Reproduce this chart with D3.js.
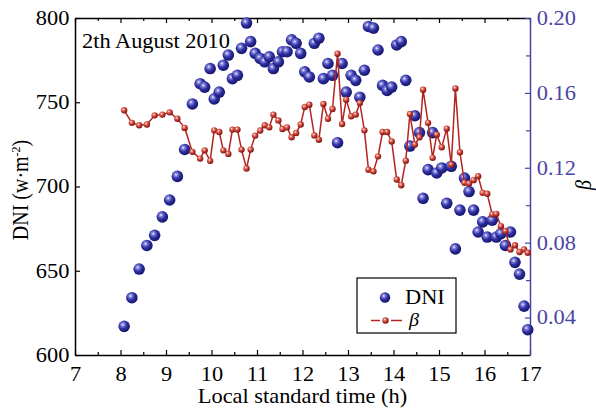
<!DOCTYPE html>
<html>
<head>
<meta charset="utf-8">
<script src="https://cdn.jsdelivr.net/npm/d3@7"></script>
<style>
  body { margin: 0; background: #fff; }
  svg text { font-family: "Liberation Serif", "Times New Roman", serif; }
</style>
</head>
<body>
<script>
// local standard time of each measurement (h)
const hours = [8.08, 8.25, 8.41, 8.58, 8.75, 8.92, 9.08, 9.25, 9.41, 9.58,
  9.75, 9.85, 9.97, 10.06, 10.17, 10.26, 10.37, 10.46, 10.57, 10.66,
  10.77, 10.86, 10.96, 11.07, 11.17, 11.27, 11.36, 11.47, 11.56, 11.66,
  11.76, 11.86, 11.96, 12.05, 12.15, 12.26, 12.36, 12.46, 12.56, 12.66,
  12.77, 12.87, 12.96, 13.07, 13.17, 13.26, 13.36, 13.45, 13.56, 13.66,
  13.76, 13.86, 13.96, 14.07, 14.17, 14.27, 14.36, 14.47, 14.57, 14.65,
  14.76, 14.86, 14.95, 15.06, 15.17, 15.27, 15.36, 15.46, 15.56, 15.66,
  15.76, 15.86, 15.96, 16.06, 16.17, 16.26, 16.36, 16.46, 16.57, 16.67,
  16.77, 16.87, 16.95];

// direct normal irradiance (w·m-2)
const dni = [617, 634, 651, 665, 671, 682, 692, 706, 722, 749,
  761, 759, 770, 752, 756, 772, 778, 764, 766, 782,
  797, 786, 779, 776, 774, 777, 770, 774, 780, 780,
  787, 785, 779, 768, 765, 785, 788, 764, 773, 766,
  726, 773, 756, 766, 763, 753, 769, 795, 794, 781,
  760, 757, 759, 784, 786, 763, 724, 742, 732, 693,
  710, 732, 708, 711, 690, 712, 663, 686, 705, 697,
  686, 673, 679, 670, 680, 670, 672, 665, 673, 655,
  648, 629, 615];

// Angstrom turbidity beta
const beta = [0.1507, 0.1440, 0.1427, 0.1431, 0.1480, 0.1484, 0.1496, 0.1462, 0.1413, 0.1285,
  0.1249, 0.1293, 0.1237, 0.1400, 0.1391, 0.1293, 0.1274, 0.1404, 0.1404, 0.1297,
  0.1196, 0.1297, 0.1372, 0.1399, 0.1427, 0.1416, 0.1484, 0.1453, 0.1407, 0.1416,
  0.1363, 0.1386, 0.1431, 0.1525, 0.1537, 0.1373, 0.1350, 0.1541, 0.1462, 0.1514,
  0.1809, 0.1434, 0.1564, 0.1475, 0.1484, 0.1546, 0.1400, 0.1190, 0.1181, 0.1261,
  0.1391, 0.1391, 0.1341, 0.1137, 0.1107, 0.1238, 0.1487, 0.1324, 0.1363, 0.1617,
  0.1440, 0.1253, 0.1377, 0.1310, 0.1409, 0.1217, 0.1624, 0.1283, 0.1120, 0.1116,
  0.1134, 0.1155, 0.1066, 0.1061, 0.0951, 0.0954, 0.0888, 0.0862, 0.0764, 0.0786,
  0.0750, 0.0764, 0.0746];

const xTicks = [7, 8, 9, 10, 11, 12, 13, 14, 15, 16, 17];
const xMinor = [7.5, 8.5, 9.5, 10.5, 11.5, 12.5, 13.5, 14.5, 15.5, 16.5];
const dniTicks = [600, 650, 700, 750, 800];
const betaTicks = [0.04, 0.08, 0.12, 0.16, 0.20];
const betaMinor = [0.06, 0.10, 0.14, 0.18];

const W = 596, H = 412;
const plotL = 75, plotR = 530, plotT = 18, plotB = 355;
const sx = 1.12;               // the original type is slightly wide
const blue = "#4b45a6";
const red = "#b3231f";

const svg = d3.select("body").append("svg")
    .attr("width", W)
    .attr("height", H);

// gradients for the shaded markers
let defs = svg.append("defs");
let gb = defs.append("radialGradient").attr("id", "ballBlue")
    .attr("cx", "38%").attr("cy", "35%").attr("r", "65%");
gb.append("stop").attr("offset", "0%").attr("stop-color", "#ffffff");
gb.append("stop").attr("offset", "18%").attr("stop-color", "#8c8ce0");
gb.append("stop").attr("offset", "55%").attr("stop-color", "#2f2fa3");
gb.append("stop").attr("offset", "100%").attr("stop-color", "#16166a");
let gr = defs.append("radialGradient").attr("id", "ballRed")
    .attr("cx", "38%").attr("cy", "35%").attr("r", "65%");
gr.append("stop").attr("offset", "0%").attr("stop-color", "#ffffff");
gr.append("stop").attr("offset", "25%").attr("stop-color", "#e87a6c");
gr.append("stop").attr("offset", "65%").attr("stop-color", "#b8302a");
gr.append("stop").attr("offset", "100%").attr("stop-color", "#7a1410");

let xScale = d3.scaleLinear().domain([7, 17]).range([plotL, plotR]);
let yScale = d3.scaleLinear().domain([600, 800]).range([plotB, plotT]);
let bScale = d3.scaleLinear().domain([0.02, 0.20]).range([plotB, plotT]);

function styleAxis(g, color) {
    g.attr("font-family", null).attr("font-size", null);
    g.select(".domain").attr("stroke", color).attr("stroke-width", 1.5);
    g.selectAll(".tick line").attr("stroke", color).attr("stroke-width", 1.2);
    g.selectAll(".tick text")
        .attr("fill", color)
        .style("font-size", "20px")
        .attr("transform", `scale(${sx},1)`);
}

function minorLines(g, color) {
    g.select(".domain").remove();
    g.selectAll("line").attr("stroke", color).attr("stroke-width", 1.2);
}

// bottom axis
svg.append("g")
    .attr("transform", `translate(0,${plotB})`)
    .call(d3.axisBottom(xScale).tickValues(xTicks).tickSize(-5).tickSizeOuter(0)
        .tickPadding(12).tickFormat(d3.format("d")))
    .call(g => styleAxis(g, "#000"));
svg.append("g")
    .attr("transform", `translate(0,${plotB})`)
    .call(d3.axisBottom(xScale).tickValues(xMinor).tickSize(-3).tickFormat(""))
    .call(g => minorLines(g, "#000"));

// top axis
svg.append("g")
    .attr("transform", `translate(0,${plotT})`)
    .call(d3.axisTop(xScale).tickValues(xTicks).tickSize(-5).tickSizeOuter(0).tickFormat(""))
    .call(g => styleAxis(g, "#000"));
svg.append("g")
    .attr("transform", `translate(0,${plotT})`)
    .call(d3.axisTop(xScale).tickValues(xMinor).tickSize(-3).tickFormat(""))
    .call(g => minorLines(g, "#000"));

// left axis (DNI)
svg.append("g")
    .attr("transform", `translate(${plotL},0)`)
    .call(d3.axisLeft(yScale).tickValues(dniTicks).tickSize(-5).tickSizeOuter(0).tickPadding(5))
    .call(g => styleAxis(g, "#000"));

// right axis (beta)
svg.append("g")
    .attr("transform", `translate(${plotR},0)`)
    .call(d3.axisRight(bScale).tickValues(betaTicks).tickSize(-5).tickSizeOuter(0)
        .tickPadding(6).tickFormat(d3.format(".2f")))
    .call(g => styleAxis(g, blue));
svg.append("g")
    .attr("transform", `translate(${plotR},0)`)
    .call(d3.axisRight(bScale).tickValues(betaMinor).tickSize(-4).tickFormat(""))
    .call(g => minorLines(g, blue));

// axis titles
svg.append("text")
    .attr("transform", `translate(${(plotL + plotR) / 2},403) scale(${sx},1)`)
    .attr("text-anchor", "middle")
    .style("font-size", "20px")
    .text("Local standard time (h)");

let yTitle = svg.append("text")
    .attr("transform", `translate(28,190) rotate(-90) scale(1,${sx})`)
    .attr("text-anchor", "middle")
    .style("font-size", "20px");
yTitle.append("tspan").text("DNI (w·m");
yTitle.append("tspan").attr("dy", -7).style("font-size", "12px").text("-2");
yTitle.append("tspan").attr("dy", 7).text(")");

svg.append("text")
    .attr("transform", `translate(591,185) rotate(-90) scale(1,${sx})`)
    .attr("text-anchor", "middle")
    .style("font-size", "20px")
    .style("font-style", "italic")
    .text("β");

svg.append("text")
    .attr("transform", `translate(82,48) scale(${sx},1)`)
    .style("font-size", "20px")
    .text("2th August 2010");

// DNI spheres
svg.append("g").selectAll("circle")
    .data(hours)
    .enter()
    .append("circle")
    .attr("cx", d => xScale(d))
    .attr("cy", (d, i) => yScale(dni[i]))
    .attr("r", 5.8)
    .attr("fill", "url(#ballBlue)");

// beta line with markers
let line = d3.line()
    .x(d => xScale(d))
    .y((d, i) => bScale(beta[i]));
svg.append("path")
    .datum(hours)
    .attr("d", line)
    .attr("fill", "none")
    .attr("stroke", red)
    .attr("stroke-width", 1.5);
svg.append("g").selectAll("circle")
    .data(hours)
    .enter()
    .append("circle")
    .attr("cx", d => xScale(d))
    .attr("cy", (d, i) => bScale(beta[i]))
    .attr("r", 3.2)
    .attr("fill", "url(#ballRed)");

// legend
let legend = svg.append("g").attr("transform", "translate(357,278)");
legend.append("rect")
    .attr("width", 99)
    .attr("height", 55)
    .attr("fill", "#fff")
    .attr("stroke", "#000")
    .attr("stroke-width", 1.2);
legend.append("circle")
    .attr("cx", 28).attr("cy", 19.5).attr("r", 5.2)
    .attr("fill", "url(#ballBlue)");
legend.append("text")
    .attr("transform", `translate(48,25.5) scale(${sx},1)`)
    .style("font-size", "20px")
    .text("DNI");
legend.append("line")
    .attr("x1", 14).attr("x2", 23).attr("y1", 42.5).attr("y2", 42.5)
    .attr("stroke", red).attr("stroke-width", 1.5);
legend.append("line")
    .attr("x1", 34).attr("x2", 45).attr("y1", 42.5).attr("y2", 42.5)
    .attr("stroke", red).attr("stroke-width", 1.5);
legend.append("circle")
    .attr("cx", 28.5).attr("cy", 42.5).attr("r", 3.2)
    .attr("fill", "url(#ballRed)");
legend.append("text")
    .attr("transform", `translate(52,48) scale(${sx},1)`)
    .style("font-size", "18px")
    .style("font-style", "italic")
    .text("β");
</script>
</body>
</html>
